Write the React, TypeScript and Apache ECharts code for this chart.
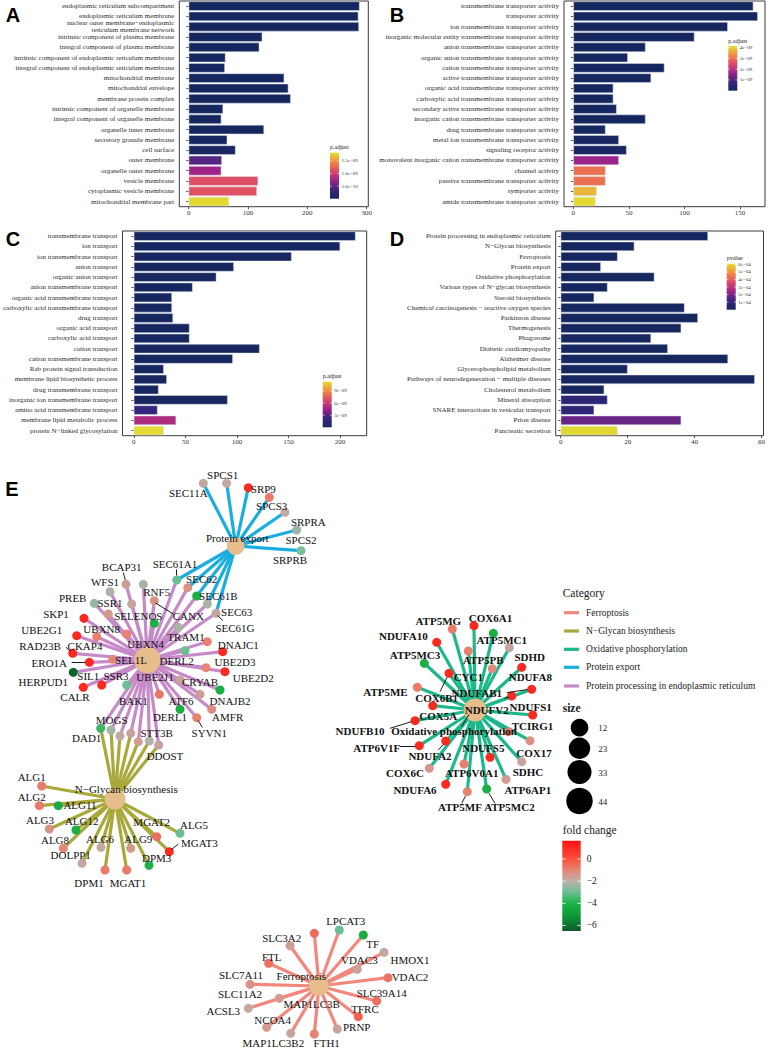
import React, { useEffect, useRef } from "react";
import * as echarts from "echarts";

const SERIF = '"Liberation Serif", "Times New Roman", serif';
const SANS = '"Liberation Sans", Arial, sans-serif';

// ---------------- Panel A (GO CC) ----------------
const catsA = [
  "endoplasmic reticulum subcompartment",
  "endoplasmic reticulum membrane",
  "nuclear outer membrane−endoplasmic\nreticulum membrane network",
  "intrinsic component of plasma membrane",
  "integral component of plasma membrane",
  "intrinsic component of endoplasmic reticulum membrane",
  "integral component of endoplasmic reticulum membrane",
  "mitochondrial membrane",
  "mitochondrial envelope",
  "membrane protein complex",
  "intrinsic component of organelle membrane",
  "integral component of organelle membrane",
  "organelle inner membrane",
  "secretory granule membrane",
  "cell surface",
  "outer membrane",
  "organelle outer membrane",
  "vesicle membrane",
  "cytoplasmic vesicle membrane",
  "mitochondrial membrane part",
];
const countA = [288, 286, 287, 124, 119, 62, 61, 161, 168, 172, 58, 55, 127, 65, 79, 56, 55, 117, 115, 68];
const padjA = [1.1e-15, 1.4e-15, 2.0e-15, 3.5e-14, 5.2e-14, 8.8e-14, 1.5e-13, 2.1e-13, 2.3e-13, 4.7e-13, 9.6e-13, 2.2e-12, 4.1e-12, 1.3e-11, 4.6e-11, 4.6e-10, 7.4e-10, 1.12e-9, 1.14e-9, 1.8e-9];
const ticksA = [0, 100, 200, 300];
const legendTicksA = [5e-10, 1e-9, 1.5e-9];
const legendLabelsA = ["5.0e−10", "1.0e−09", "1.5e−09"];

// ---------------- Panel B (GO MF) ----------------
const catsB = [
  "transmembrane transporter activity",
  "transporter activity",
  "ion transmembrane transporter activity",
  "inorganic molecular entity transmembrane transporter activity",
  "anion transmembrane transporter activity",
  "organic anion transmembrane transporter activity",
  "cation transmembrane transporter activity",
  "active transmembrane transporter activity",
  "organic acid transmembrane transporter activity",
  "carboxylic acid transmembrane transporter activity",
  "secondary active transmembrane transporter activity",
  "inorganic cation transmembrane transporter activity",
  "drug transmembrane transporter activity",
  "metal ion transmembrane transporter activity",
  "signaling receptor activity",
  "monovalent inorganic cation transmembrane transporter activity",
  "channel activity",
  "passive transmembrane transporter activity",
  "symporter activity",
  "amide transmembrane transporter activity",
];
const countB = [162, 166, 139, 109, 65, 49, 82, 70, 36, 36, 39, 65, 29, 41, 48, 41, 29, 29, 21, 20];
const padjB = [1.0e-14, 2.3e-14, 5.1e-14, 1.2e-13, 3.3e-13, 6.0e-13, 9.1e-13, 1.8e-12, 4.4e-12, 4.4e-12, 8.1e-12, 1.6e-11, 3.9e-11, 7.7e-11, 1.2e-10, 1.65e-9, 3.0e-9, 3.0e-9, 3.75e-9, 4.1e-9];
const ticksB = [0, 50, 100, 150];
const legendTicksB = [1e-9, 2e-9, 3e-9, 4e-9];
const legendLabelsB = ["1e−09", "2e−09", "3e−09", "4e−09"];

// ---------------- Panel C (GO BP) ----------------
const catsC = [
  "transmembrane transport",
  "ion transport",
  "ion transmembrane transport",
  "anion transport",
  "organic anion transport",
  "anion transmembrane transport",
  "organic acid transmembrane transport",
  "carboxylic acid transmembrane transport",
  "drug transport",
  "organic acid transport",
  "carboxylic acid transport",
  "cation transport",
  "cation transmembrane transport",
  "Rab protein signal transduction",
  "membrane lipid biosynthetic process",
  "drug transmembrane transport",
  "inorganic ion transmembrane transport",
  "amino acid transmembrane transport",
  "membrane lipid metabolic process",
  "protein N−linked glycosylation",
];
const countC = [215, 200, 153, 97, 80, 57, 37, 37, 38, 54, 54, 122, 96, 29, 32, 24, 91, 23, 41, 29];
const padjC = [2.0e-15, 5.0e-15, 1.1e-14, 4.0e-14, 9.0e-14, 2.0e-13, 4.5e-13, 4.5e-13, 8.0e-13, 1.5e-12, 1.5e-12, 3.0e-12, 6.0e-12, 1.5e-11, 3.5e-11, 7.0e-11, 1.5e-10, 2.0e-9, 5.1e-9, 11.2e-9];
const ticksC = [0, 50, 100, 150, 200];
const legendTicksC = [3e-9, 6e-9, 9e-9];
const legendLabelsC = ["3e−09", "6e−09", "9e−09"];

// ---------------- Panel D (KEGG) ----------------
const catsD = [
  "Protein processing in endoplasmic reticulum",
  "N−Glycan biosynthesis",
  "Ferroptosis",
  "Protein export",
  "Oxidative phosphorylation",
  "Various types of N−glycan biosynthesis",
  "Steroid biosynthesis",
  "Chemical carcinogenesis − reactive oxygen species",
  "Parkinson disease",
  "Thermogenesis",
  "Phagosome",
  "Diabetic cardiomyopathy",
  "Alzheimer disease",
  "Glycerophospholipid metabolism",
  "Pathways of neurodegeneration − multiple diseases",
  "Cholesterol metabolism",
  "Mineral absorption",
  "SNARE interactions in vesicular transport",
  "Prion disease",
  "Pancreatic secretion",
];
const countD = [44, 22, 17, 12, 28, 14, 10, 37, 41, 36, 27, 32, 50, 20, 58, 13, 14, 10, 36, 17];
const pvalD = [1e-12, 2e-10, 1e-9, 3e-9, 6e-9, 1e-8, 3e-8, 5e-8, 6e-8, 9e-8, 2e-7, 4e-7, 6e-7, 1.2e-6, 2e-6, 5e-6, 7.5e-5, 8e-5, 1.8e-4, 6.0e-4];
const ticksD = [0, 20, 40, 60];
const legendTicksD = [1e-4, 2e-4, 3e-4, 4e-4, 5e-4, 6e-4];
const legendLabelsD = ["1e−04", "2e−04", "3e−04", "4e−04", "5e−04", "6e−04"];

// ---------------- Panel E (gene–pathway network) ----------------
const hubNames = [
  "Protein export",
  "Protein processing in endoplasmic reticulum",
  "N−Glycan biosynthesis",
  "Oxidative phosphorylation",
  "Ferroptosis",
];
const hubGeneCounts = [12, 44, 22, 28, 17];
const categoryNames = [
  "Ferroptosis",
  "N−Glycan biosynthesis",
  "Oxidative phosphorylation",
  "Protein export",
  "Protein processing in endoplasmic reticulum",
];
const sizeLegendValues = [12, 23, 33, 44];
const foldChangeTicks = [0, -2, -4, -6];

const proteinExportGenes = ["SEC11A", "SPCS1", "SRP9", "SPCS3", "SRPRA", "SPCS2", "SRPRB", "SEC61A1", "SEC62", "SEC61B", "SEC63", "SEC61G"];
const proteinExportFC = [-1.8, -1.8, 1.0, -0.8, -1.8, -2.4, -2.8, -3.0, -1.3, -4.2, -2.2, -1.8];

const erProcessingGenes = [
  "BCAP31", "WFS1", "RNF5", "CANX", "PREB", "SSR1", "SKP1", "SELENOS", "UBXN8", "CKAP4", "UBE2G1", "RAD23B",
  "ERO1A", "HERPUD1", "CALR", "SIL1", "SSR3", "UBXN4", "SEL1L", "TRAM1", "DERL2", "DNAJC1", "UBE2D3", "UBE2D2",
  "CRYAB", "UBE2J1", "DNAJB2", "BAK1", "ATF6", "DERL1", "AMFR", "SYVN1",
];
const erProcessingFC = [
  -1.6, -2.2, -2.2, -1.3, -2.5, -1.8, 1.0, -4.2, -1.4, -0.9, 1.0, 1.0,
  1.0, -6.3, 1.0, 1.0, -3.0, -0.9, -1.0, -2.2, -3.0, -0.9, 1.0, 1.0,
  -1.0, -1.7, -4.2, -0.7, -1.6, -4.2, -1.2, -0.9,
];
const ostGenes = ["DAD1", "MOGS", "RPN1", "RPN2", "OSTC", "STT3B", "DDOST"];
const ostFC = [-3.6, -2.3, -1.8, -1.7, -1.5, -2.1, -1.7];
const glycanGenes = ["ALG1", "ALG2", "ALG11", "ALG3", "ALG12", "ALG8", "ALG6", "DOLPP1", "MGAT2", "ALG5", "ALG9", "MGAT3", "DPM3", "DPM1", "MGAT1"];
const glycanFC = [-0.8, -0.8, -4.3, -1.3, -4.2, -1.0, -1.8, -1.8, -0.6, -3.0, -1.4, 1.0, -4.0, -0.8, -0.8];
const oxphosGenes = [
  "ATP5MG", "COX6A1", "NDUFA10", "ATP5MC1", "ATP5PB", "SDHD", "ATP5MC3", "NDUFA8", "COX6B1", "CYC1",
  "NDUFAB1", "NDUFV2", "ATP5ME", "COX5A", "NDUFS1", "NDUFB10", "TCIRG1", "COX17", "ATP6V1F", "NDUFA2",
  "NDUFS5", "SDHC", "COX6C", "ATP6V0A1", "ATP6AP1", "NDUFA6", "ATP5MF", "ATP5MC2",
];
const oxphosFC = [
  -0.8, 1.0, 1.0, -4.2, -0.9, -1.7, -4.2, 1.0, 1.0, -1.2,
  1.0, 1.0, -0.8, 1.0, 1.0, 1.0, -0.8, -1.2, 1.0, 1.0,
  1.0, -1.7, -1.4, -0.9, -1.5, 1.0, -0.9, -4.2,
];
const ferroGenes = ["MAP1LC3B", "LPCAT3", "TF", "SLC3A2", "HMOX1", "FTL", "VDAC3", "VDAC2", "SLC7A11", "SLC39A14", "SLC11A2", "ACSL3", "TFRC", "NCOA4", "PRNP", "MAP1LC3B2", "FTH1"];
const ferroFC = [-0.5, -3.0, -4.3, -1.6, -1.8, -0.6, -1.7, -0.7, -1.3, -0.6, -1.5, -1.8, -0.3, -1.5, -1.7, -1.7, -0.9];

// ----- layout (pixel positions of the network drawing) -----
const hubLayout: Record<string, number[]> = {
  "Protein export": [235.7, 546, 237.3, 538.3],
  "Protein processing in endoplasmic reticulum": [147.3, 660],
  "N−Glycan biosynthesis": [115, 799, 126.3, 789.3],
  "Oxidative phosphorylation": [475, 710, 454, 731],
  "Ferroptosis": [319, 986, 301.3, 976],
};
const geneLayout: Record<string, number[]> = {
  SEC11A: [203.3, 483.3, 188.3, 493.3], SPCS1: [226.7, 483.3, 222.7, 475], SRP9: [248.3, 487.7, 263.3, 489],
  SPCS3: [269.3, 497.3, 271.7, 506], SRPRA: [285, 512.3, 308.3, 521.7], SPCS2: [296.7, 530, 301, 540],
  SRPRB: [301, 550.7, 290, 560], SEC61A1: [176.7, 580, 175, 564.3], SEC62: [187.7, 587.7, 201.7, 579.3],
  SEC61B: [196.7, 596, 218.3, 596], SEC63: [207.3, 604, 236.7, 612.3], SEC61G: [216, 613.3, 235, 628.3],
  BCAP31: [126, 584.3, 121.7, 566.7], WFS1: [110, 591.7, 105, 582.3], RNF5: [143.3, 584.3, 156.7, 591.7],
  CANX: [154.3, 600.7, 188.3, 615.5], PREB: [94.3, 603.3, 72.7, 598.3], SSR1: [131.7, 604, 110, 603.3],
  SKP1: [84, 618.3, 56, 614.3], SELENOS: [154.3, 623.3, 138.3, 615.7], UBXN8: [108.3, 614, 101.7, 629.3],
  CKAP4: [96.7, 636.7, 85, 646], UBE2G1: [76.7, 635.7, 41.7, 630], RAD23B: [72.7, 653.3, 40, 646],
  ERO1A: [89.3, 662.3, 49.3, 663.3], HERPUD1: [73.3, 672.3, 43.3, 681.7], CALR: [83.3, 687.3, 75, 697.3],
  SIL1: [101.7, 685, 88.3, 676], SSR3: [126.7, 685, 116, 676], UBXN4: [126.7, 634, 145.7, 644],
  SEL1L: [112.7, 659.3, 131, 660], TRAM1: [178.3, 627.3, 186, 637], DERL2: [185, 650.7, 176.7, 660.7],
  DNAJC1: [207.3, 641.7, 238.3, 645], UBE2D3: [222.7, 651.7, 235, 662.3], UBE2D2: [225, 671.7, 253.3, 678.3],
  CRYAB: [206, 667.7, 200, 681.7], UBE2J1: [180, 680, 155, 676.7], DNAJB2: [220, 690, 230, 700.7],
  BAK1: [159.3, 694.3, 133.3, 701], ATF6: [200, 694.3, 181, 701], DERL1: [180, 709.3, 170, 717.3],
  AMFR: [211.7, 709.3, 227.7, 717.3], SYVN1: [196.7, 717.7, 209.3, 733.3],
  DAD1: [100.7, 728.3, 86.7, 738.3], MOGS: [111, 730, 111.7, 720], RPN1: [120, 736], RPN2: [130.7, 733.3],
  OSTC: [138.3, 741.7], STT3B: [149.3, 741, 156.7, 732.7], DDOST: [158.7, 745, 165, 756],
  ALG1: [41.7, 786, 31.7, 776.7], ALG2: [39.3, 805.7, 31.7, 796.7], ALG11: [58.3, 805.7, 80, 805],
  ALG3: [49.3, 829, 40, 820], ALG12: [76, 830, 81.7, 821], ALG8: [63.3, 848.3, 55, 840],
  ALG6: [101, 847.3, 100, 839.3], DOLPP1: [82, 863.3, 70.7, 855], MGAT2: [156.7, 836.7, 151.7, 821.7],
  ALG5: [180, 833.3, 194, 825], ALG9: [130.7, 848.3, 138.3, 839.3], MGAT3: [169.3, 851.7, 199.3, 843.3],
  DPM3: [149, 865.3, 156.7, 858.3], DPM1: [105, 870, 89, 883], MGAT1: [126.7, 870, 128, 883],
  ATP5MG: [452.3, 629, 438.3, 620.7], COX6A1: [474, 625.7, 490.5, 617.7], NDUFA10: [436.7, 642.3, 403.3, 636],
  ATP5MC1: [493.3, 633.3, 501.7, 640], ATP5PB: [468.3, 651, 483.3, 660], SDHD: [509.3, 647.7, 529.7, 656.7],
  ATP5MC3: [424.3, 663.3, 415, 655], NDUFA8: [521.7, 667.3, 530.3, 676.7], COX6B1: [449, 673.3, 436.7, 697.7],
  CYC1: [492.3, 668.7, 468.3, 676.7], NDUFAB1: [531.7, 689.3, 476.7, 692.7], NDUFV2: [511.7, 696, 486.7, 710],
  ATP5ME: [417.3, 687.3, 385.5, 691.7], COX5A: [432.7, 705.7, 438.3, 715.7], NDUFS1: [532.7, 715, 530.7, 706.7],
  NDUFB10: [415, 720.7, 360, 731], TCIRG1: [508.3, 731.7, 532.5, 725.7], COX17: [530, 740.7, 534, 752.7],
  ATP6V1F: [419.3, 745.7, 376.7, 747.7], NDUFA2: [445.7, 741, 430, 755.7], NDUFS5: [490, 757.3, 483.3, 748.3],
  SDHC: [521.7, 761.7, 528, 771.7], COX6C: [429.3, 768.3, 405, 773.3], ATP6V0A1: [464, 764, 471.7, 773.3],
  ATP6AP1: [506, 779.3, 527.8, 790], NDUFA6: [445.7, 784.3, 415, 790], ATP5MF: [467.3, 791.7, 460, 806.7],
  ATP5MC2: [486.7, 789, 509.4, 806.7],
  MAP1LC3B: [314.3, 933.3, 311.7, 1004], LPCAT3: [339.3, 930, 345.7, 921], TF: [363.3, 935, 372.7, 944.3],
  SLC3A2: [290, 945.7, 281.7, 938.3], HMOX1: [384, 952.3, 410, 960], FTL: [268.7, 963.3, 271.7, 956.7],
  VDAC3: [357.3, 969.3, 359.3, 960], VDAC2: [388, 977.7, 410, 976.7], SLC7A11: [250, 984.3, 241, 975],
  SLC39A14: [376.7, 1001, 381.7, 993.3], SLC11A2: [279.3, 998.3, 240, 994], ACSL3: [248.3, 1008.3, 223.3, 1010.7],
  TFRC: [358.3, 1016.7, 365, 1009.3], NCOA4: [266.7, 1027.3, 272.7, 1020], PRNP: [337.3, 1029, 356.7, 1026.7],
  MAP1LC3B2: [290.7, 1033.3, 273.3, 1043.3], FTH1: [314.3, 1034, 326.7, 1043.3],
};
const leaderSegments: number[][] = [
  [123.3, 572.5, 125.3, 580], [176.3, 569.5, 176.6, 575.5], [155.5, 603, 173.3, 614], [217.5, 615.5, 223, 620.5],
  [66, 647.3, 70.5, 651.5], [71.7, 662.3, 85, 662.3], [198, 720.5, 202.5, 727.5], [171.5, 849.5, 178.3, 844],
  [440, 691.7, 447, 677.5], [506.7, 692.7, 527.5, 689.6], [504.5, 698.5, 508.5, 697], [390, 728.3, 411, 721.8],
  [400, 746.7, 415, 746.5], [438.3, 750, 443.5, 744.5], [461.7, 726.7, 469, 714.5], [461.7, 803.3, 465.5, 796],
  [495, 803.3, 489, 793.5],
];

const PAL = ["#15275e", "#3b2581", "#9c2488", "#dc4969", "#f38a41", "#e1df31"];
const FC_STOPS: [number, string][] = [
  [1.65, "#ff1010"], [0, "#f8503c"], [-1, "#e68676"], [-2, "#bab0ab"], [-3, "#6cbf94"],
  [-4, "#1db247"], [-5, "#0f9e37"], [-6, "#0c7331"], [-6.5, "#0b5a2b"],
];
const CAT_COLORS = ["#f4877d", "#a9a83a", "#1bb98a", "#1aaee0", "#c78ac8"];
const HUB_COLOR = "#e6bd8b";

function padjColor(v: number, max: number): string {
  return echarts.color.lerp(Math.max(0, Math.min(1, v / max)), PAL) as string;
}
function fcColor(v: number): string {
  for (let i = 0; i < FC_STOPS.length - 1; i++) {
    const [a, ca] = FC_STOPS[i];
    const [b, cb] = FC_STOPS[i + 1];
    if (v <= a && v >= b) return echarts.color.lerp((a - v) / (a - b), [ca, cb]) as string;
  }
  return v > 0 ? FC_STOPS[0][1] : FC_STOPS[FC_STOPS.length - 1][1];
}
function hubSize(n: number) {
  return 8 + 2.8 * Math.sqrt(n);
}

function buildOption() {
  const panels = [
    { cats: catsA, counts: countA, p: padjA, pMax: 1.82e-9, box: [179.3, 1, 189, 205.7], xr: [-15.8, 302.7], ticks: ticksA,
      cb: { x: 330, y: 152.7, w: 9, h: 46, title: "p.adjust", ticks: legendTicksA, labels: legendLabelsA } },
    { cats: catsB, counts: countB, p: padjB, pMax: 4.15e-9, box: [564, 1, 201, 205.7], xr: [-8.4, 172.5], ticks: ticksB,
      cb: { x: 728.3, y: 46, w: 9, h: 44.7, title: "p.adjust", ticks: legendTicksB, labels: legendLabelsB } },
    { cats: catsC, counts: countC, p: padjC, pMax: 11.3e-9, box: [116, 231, 250.7, 204.7], xr: [-11, 225.8], ticks: ticksC,
      cb: { x: 322.7, y: 381.7, w: 9, h: 45.6, title: "p.adjust", ticks: legendTicksC, labels: legendLabelsC } },
    { cats: catsD, counts: countD, p: pvalD, pMax: 6.1e-4, box: [555.7, 231, 209.3, 204.7], xr: [-1.5, 60.6], ticks: ticksD,
      cb: { x: 726.7, y: 263.7, w: 9, h: 46, title: "pvalue", ticks: legendTicksD, labels: legendLabelsD } },
  ];

  const grid: any[] = [];
  const xAxis: any[] = [];
  const yAxis: any[] = [];
  const series: any[] = [];
  const graphic: any[] = [];

  const palStops = PAL.map((c, i) => ({ offset: i / (PAL.length - 1), color: c }));

  panels.forEach((pn, i) => {
    grid.push({ left: pn.box[0], top: pn.box[1], width: pn.box[2], height: pn.box[3], show: true, borderColor: "#3a3a3a", borderWidth: 1, backgroundColor: "transparent" });
    xAxis.push({
      type: "value", gridIndex: i, min: pn.xr[0], max: pn.xr[1],
      axisLine: { show: false }, splitLine: { show: false },
      axisTick: { show: true, length: 2.5, customValues: pn.ticks, lineStyle: { color: "#333", width: 0.8 } },
      axisLabel: { customValues: pn.ticks, fontSize: 7, color: "#333", fontFamily: SERIF, margin: 3 },
    });
    yAxis.push({
      type: "category", gridIndex: i, data: pn.cats, inverse: true,
      axisLine: { show: false },
      axisTick: { show: true, length: 2.5, alignWithLabel: true, lineStyle: { color: "#333", width: 0.8 } },
      axisLabel: { fontSize: 7, color: "#2b2b2b", fontFamily: SERIF, margin: 5, interval: 0, lineHeight: 6.5 },
    });
    series.push({
      type: "bar", xAxisIndex: i, yAxisIndex: i, barCategoryGap: "9%", silent: true,
      itemStyle: { borderColor: "#dfe5ef", borderWidth: 0.5 },
      data: pn.counts.map((v, k) => ({ value: v, itemStyle: { color: padjColor(pn.p[k], pn.pMax) } })),
    });
    // colour bar legend
    const cb = pn.cb;
    graphic.push({ type: "rect", shape: { x: cb.x, y: cb.y, width: cb.w, height: cb.h },
      style: { fill: new echarts.graphic.LinearGradient(0, 1, 0, 0, palStops) } });
    graphic.push({ type: "text", x: cb.x, y: cb.y - 5.5, style: { text: cb.title, fontSize: 6, fontFamily: SERIF, fill: "#222", align: "left", verticalAlign: "middle", textAlign: "left", textVerticalAlign: "middle" } });
    cb.ticks.forEach((t, k) => {
      const yy = cb.y + cb.h - (t / pn.pMax) * cb.h;
      graphic.push({ type: "line", shape: { x1: cb.x, y1: yy, x2: cb.x + 1.8, y2: yy }, style: { stroke: "#fff", lineWidth: 0.6 } });
      graphic.push({ type: "line", shape: { x1: cb.x + cb.w - 1.8, y1: yy, x2: cb.x + cb.w, y2: yy }, style: { stroke: "#fff", lineWidth: 0.6 } });
      graphic.push({ type: "text", x: cb.x + cb.w + 2.5, y: yy, style: { text: cb.labels[k], fontSize: 5, fontFamily: SERIF, fill: "#333", align: "left", verticalAlign: "middle", textAlign: "left", textVerticalAlign: "middle" } });
    });
  });

  // panel letters
  [["A", 13, 15], ["B", 397, 15], ["C", 13, 239], ["D", 397, 239], ["E", 12, 488.5]].forEach(([t, x, y]) => {
    graphic.push({ type: "text", x, y, style: { text: t, fontSize: 20, fontWeight: "bold", fontFamily: SANS, fill: "#000", align: "center", verticalAlign: "middle", textAlign: "center", textVerticalAlign: "middle" } });
  });

  // network coordinate system (1 unit = 1 px)
  grid.push({ left: 0, top: 0, width: 768, height: 1050, show: false });
  xAxis.push({ type: "value", gridIndex: 4, min: 0, max: 768, show: false });
  yAxis.push({ type: "value", gridIndex: 4, min: 0, max: 1050, inverse: true, show: false });

  const pathwayMembers: Record<string, string[]> = {
    "Protein export": proteinExportGenes,
    "Protein processing in endoplasmic reticulum": [...erProcessingGenes, "SEC61A1", "SEC62", "SEC61B", "SEC63", "SEC61G", ...ostGenes],
    "N−Glycan biosynthesis": [...ostGenes, ...glycanGenes],
    "Oxidative phosphorylation": oxphosGenes,
    "Ferroptosis": ferroGenes,
  };
  const fcMap: Record<string, number> = {};
  const addFC = (g: string[], f: number[]) => g.forEach((n, i) => (fcMap[n] = f[i]));
  addFC(proteinExportGenes, proteinExportFC);
  addFC(erProcessingGenes, erProcessingFC);
  addFC(ostGenes, ostFC);
  addFC(glycanGenes, glycanFC);
  addFC(oxphosGenes, oxphosFC);
  addFC(ferroGenes, ferroFC);

  const nodes: any[] = [];
  hubNames.forEach((h, i) => {
    const L = hubLayout[h];
    const hasLabel = L.length > 2;
    nodes.push({
      name: h, value: [L[0], L[1]], symbolSize: hubSize(hubGeneCounts[i]), z: 2,
      itemStyle: { color: HUB_COLOR },
      label: hasLabel
        ? { show: true, offset: [L[2] - L[0], L[3] - L[1]], fontWeight: h === "Oxidative phosphorylation" ? "bold" : "normal" }
        : { show: false },
    });
  });
  Object.keys(fcMap).forEach((g) => {
    const L = geneLayout[g];
    const hasLabel = L.length > 2;
    nodes.push({
      name: g, value: [L[0], L[1]], symbolSize: 9,
      itemStyle: { color: fcColor(fcMap[g]) },
      label: hasLabel
        ? { show: true, offset: [L[2] - L[0], L[3] - L[1]], fontWeight: oxphosGenes.includes(g) ? "bold" : "normal" }
        : { show: false },
    });
  });
  const linkOrder = ["Protein processing in endoplasmic reticulum", "N−Glycan biosynthesis", "Protein export", "Oxidative phosphorylation", "Ferroptosis"];
  const links: any[] = [];
  linkOrder.forEach((p) => {
    const col = CAT_COLORS[categoryNames.indexOf(p)];
    pathwayMembers[p].forEach((g) => links.push({ source: p, target: g, lineStyle: { color: col } }));
  });

  series.push({
    type: "graph", coordinateSystem: "cartesian2d", xAxisIndex: 4, yAxisIndex: 4, layout: "none",
    silent: true, z: 3, data: nodes, links,
    lineStyle: { width: 3.2, opacity: 1, curveness: 0 },
    label: { position: "inside", fontFamily: SERIF, fontSize: 11, color: "#111", align: "center", verticalAlign: "middle" },
    emphasis: { disabled: true },
  });
  series.push({
    type: "lines", coordinateSystem: "cartesian2d", xAxisIndex: 4, yAxisIndex: 4, silent: true, z: 4,
    lineStyle: { color: "#000", width: 0.9, opacity: 1 },
    data: leaderSegments.map((s) => ({ coords: [[s[0], s[1]], [s[2], s[3]]] })),
  });

  // Category legend
  const txt = (text: string, x: number, y: number, size: number, extra: any = {}) => ({
    type: "text", x, y, z: 10,
    style: { text, fontSize: size, fontFamily: SERIF, fill: "#222", align: "left", verticalAlign: "middle", textAlign: "left", textVerticalAlign: "middle", ...extra },
  });
  graphic.push(txt("Category", 562.7, 593.3, 11.5));
  const catY = [612.7, 631, 649.3, 667.3, 686];
  categoryNames.forEach((c, i) => {
    graphic.push({ type: "line", shape: { x1: 564, y1: catY[i], x2: 579, y2: catY[i] }, style: { stroke: CAT_COLORS[i], lineWidth: 3.2 } });
    graphic.push(txt(c, 586, catY[i], 9.5));
  });
  // size legend
  graphic.push(txt("size", 562.7, 708.3, 11.5, { fontWeight: "bold" }));
  const sizeY = [727.7, 748.3, 772, 801];
  sizeLegendValues.forEach((v, i) => {
    graphic.push({ type: "circle", shape: { cx: 579.5, cy: sizeY[i], r: hubSize(v) / 2 }, style: { fill: "#000" } });
    graphic.push(txt(String(v), 598.3, sizeY[i] + 0.5, 9));
  });
  // fold change legend
  graphic.push(txt("fold change", 562.7, 830, 11.5));
  const fcTop = 1.65, fcBot = -6.5, barX = 562.3, barY = 840.7, barW = 18.4, barH = 90.3;
  graphic.push({
    type: "rect", shape: { x: barX, y: barY, width: barW, height: barH },
    style: { fill: new echarts.graphic.LinearGradient(0, 0, 0, 1, FC_STOPS.map(([v, c]) => ({ offset: (fcTop - v) / (fcTop - fcBot), color: c }))) },
  });
  foldChangeTicks.forEach((v) => {
    const yy = barY + ((fcTop - v) / (fcTop - fcBot)) * barH;
    graphic.push({ type: "line", shape: { x1: barX, y1: yy, x2: barX + 3.5, y2: yy }, style: { stroke: "#fff", lineWidth: 0.8 } });
    graphic.push({ type: "line", shape: { x1: barX + barW - 3.5, y1: yy, x2: barX + barW, y2: yy }, style: { stroke: "#fff", lineWidth: 0.8 } });
    graphic.push(txt(v === 0 ? "0" : "−" + Math.abs(v), 586.7, yy, 9.5));
  });

  return { animation: false, backgroundColor: "#fff", grid, xAxis, yAxis, series, graphic };
}

export default function App() {
  const ref = useRef<HTMLDivElement>(null);
  useEffect(() => {
    if (!ref.current) return;
    const chart = echarts.init(ref.current, undefined, { renderer: "svg" });
    chart.setOption(buildOption() as any);
    return () => chart.dispose();
  }, []);
  return <div ref={ref} style={{ position: "absolute", left: 0, top: 0, width: 768, height: 1050, background: "#fff" }} />;
}
